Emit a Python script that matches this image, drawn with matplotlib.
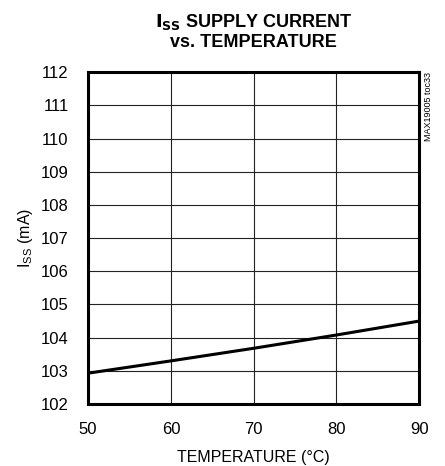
import matplotlib.pyplot as plt

plt.rcParams['font.family'] = ['Liberation Sans', 'DejaVu Sans']
plt.rcParams['mathtext.default'] = 'regular'

temperature = [50, 60, 70, 80, 90]
iss_ma = [102.93, 103.30, 103.68, 104.08, 104.50]

fig = plt.figure(figsize=(4.45, 4.66), dpi=100)
ax = fig.add_axes([0.198, 0.133, 0.744, 0.712])

ax.plot(temperature, iss_ma, color='black', linewidth=2.2)

ax.set_xlim(50, 90)
ax.set_ylim(102, 112)
ax.set_xticks(range(50, 91, 10))
ax.set_yticks(range(102, 113))
ax.grid(True, color='#222222', linewidth=0.8)
ax.tick_params(length=0, labelsize=12)
ax.tick_params(axis='y', pad=14)
ax.tick_params(axis='x', pad=13)
for s in ax.spines.values():
    s.set_linewidth(2.2)

ax.set_xlabel('TEMPERATURE (°C)', fontsize=11.5, labelpad=9)
ax.set_ylabel('$I_{SS}$ (mA)', fontsize=11.5, labelpad=4)
ax.set_title('$\\mathbf{I_{SS}}$ SUPPLY CURRENT\nvs. TEMPERATURE',
             fontsize=13, fontweight='bold', pad=18, linespacing=1.2)

fig.text(0.952, 0.845, 'MAX19005 toc33', rotation=90, fontsize=6.5,
         ha='left', va='top')

fig.savefig('out.png', dpi=100)
